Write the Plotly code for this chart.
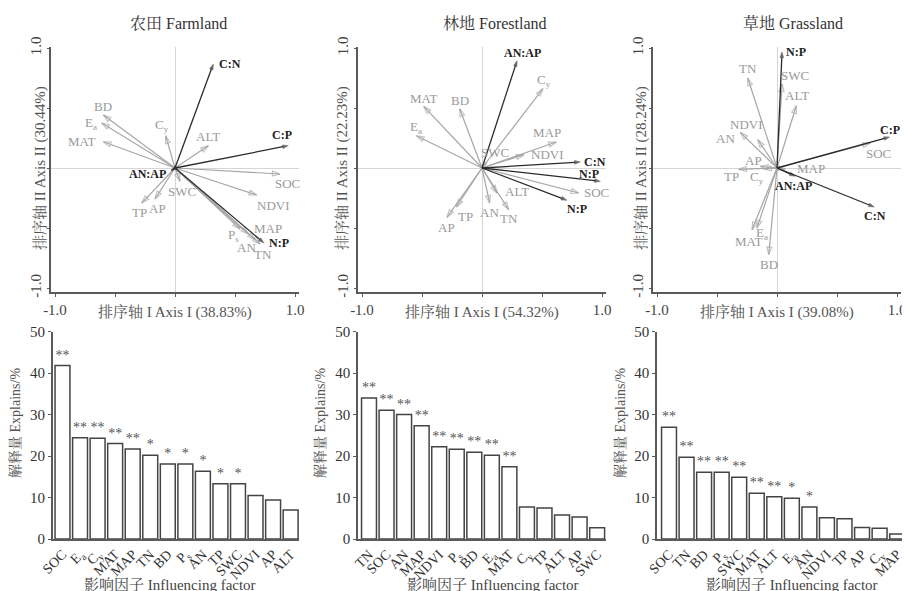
import plotly.graph_objects as go

# page body has an 8px default margin: the figure is sized so it fits the 910x591 window
PAGE_W, PAGE_H, OFF = 910, 591, 8
W, H = PAGE_W - OFF, PAGE_H - OFF
SERIF = "Liberation Serif, Times New Roman, Noto Serif CJK SC, Noto Sans CJK SC, serif"

# ---------------- RDA biplot data (arrow tips, axis units) ----------------
farm_env_names = ["BD", "E<sub>a</sub>", "MAT", "C<sub>y</sub>", "ALT", "SOC", "NDVI",
                  "SWC", "TP", "AP", "MAP", "P<sub>s</sub>", "AN", "TN"]
farm_env_x = [-0.597, -0.611, -0.597, -0.078, 0.278, 0.875, 0.681, 0.042, -0.278, -0.167, 0.611, 0.542, 0.667, 0.708]
farm_env_y = [0.442, 0.375, 0.219, 0.269, 0.186, -0.050, -0.225, -0.111, -0.292, -0.258, -0.550, -0.508, -0.597, -0.633]
farm_ratio_names = ["C:N", "C:P", "N:P", "AN:AP"]
farm_ratio_x = [0.319, 0.944, 0.742, -0.030]
farm_ratio_y = [0.867, 0.186, -0.625, -0.020]

forest_env_names = ["C<sub>y</sub>", "MAT", "BD", "E<sub>a</sub>", "MAP", "NDVI", "SWC",
                    "SOC", "ALT", "TN", "AN", "TP", "AP"]
forest_env_x = [0.508, -0.486, -0.186, -0.547, 0.619, 0.350, 0.040, 0.806, 0.125, 0.222, 0.064, -0.214, -0.292]
forest_env_y = [0.661, 0.514, 0.494, 0.269, 0.217, 0.111, 0.050, -0.208, -0.208, -0.347, -0.292, -0.325, -0.411]
forest_ratio_names = ["AN:AP", "C:N", "N:P", "N:P"]
forest_ratio_x = [0.292, 0.819, 0.986, 0.708]
forest_ratio_y = [0.894, 0.050, -0.111, -0.269]

grass_env_names = ["SWC", "ALT", "TN", "NDVI", "AN", "AP", "TP", "C<sub>y</sub>", "MAP",
                   "SOC", "MAT", "E<sub>a</sub>", "BD"]
grass_env_x = [0.042, 0.161, -0.244, -0.161, -0.306, -0.139, -0.319, -0.111, 0.070, 0.778, -0.208, -0.167, -0.069]
grass_env_y = [0.700, 0.519, 0.750, 0.236, 0.297, 0.014, -0.011, -0.008, -0.008, 0.208, -0.514, -0.500, -0.722]
grass_ratio_names = ["N:P", "AN:AP", "C:P", "C:N"]
grass_ratio_x = [0.042, 0.153, 0.939, 0.811]
grass_ratio_y = [0.967, -0.069, 0.258, -0.325]

rda_titles = ["农田 Farmland", "林地 Forestland", "草地 Grassland"]
axis1_titles = ["排序轴 I Axis I (38.83%)", "排序轴 I Axis I (54.32%)", "排序轴 I Axis I (39.08%)"]
axis2_titles = ["排序轴 II Axis II (30.44%)", "排序轴 II Axis II (22.23%)", "排序轴 II Axis II (28.24%)"]
rda_ticks = [-1.0, -0.5, 0.0, 0.5, 1.0]
rda_ticktext = ["-1.0", "", "", "", "1.0"]

# ---------------- Bar chart data ----------------
farm_factors = ["SOC", "E<sub>a</sub>", "C<sub>y</sub>", "MAT", "MAP", "TN", "BD",
                "P<sub>s</sub>", "AN", "TP", "SWC", "NDVI", "AP", "ALT"]
farm_explain = [41.8, 24.4, 24.3, 23.0, 21.7, 20.2, 18.1, 18.1, 16.3, 13.3, 13.3, 10.5, 9.4, 7.0]
farm_sig = ["**", "**", "**", "**", "**", "*", "*", "*", "*", "*", "*", "", "", ""]

forest_factors = ["TN", "SOC", "AN", "MAP", "NDVI", "P<sub>s</sub>", "BD", "E<sub>a</sub>",
                  "MAT", "C<sub>y</sub>", "TP", "ALT", "AP", "SWC"]
forest_explain = [34.0, 31.0, 30.0, 27.3, 22.2, 21.6, 20.9, 20.2, 17.4, 7.7, 7.5, 5.8, 5.3, 2.7]
forest_sig = ["**", "**", "**", "**", "**", "**", "**", "**", "**", "", "", "", "", ""]

grass_factors = ["SOC", "TN", "BD", "P<sub>s</sub>", "SWC", "MAT", "ALT", "E<sub>a</sub>",
                 "AN", "NDVI", "TP", "AP", "C<sub>y</sub>", "MAP"]
grass_explain = [26.9, 19.7, 16.1, 16.1, 14.9, 11.0, 10.2, 9.8, 7.7, 5.1, 4.9, 2.8, 2.6, 1.2]
grass_sig = ["**", "**", "**", "**", "**", "**", "**", "*", "*", "", "", "", "", ""]

bar_ticks = [0, 10, 20, 30, 40, 50]
bar_ytitle = "解释量 Explains/%"
bar_xtitle = "影响因子 Influencing factor"

# ---------------- label placement (pixel offsets: xshift, yshift, xanchor) ----------------
farm_env_lab = [(0, 8, "center"), (-3, 0, "right"), (-5, 0, "right"), (-4, 10, "center"), (0, 9, "center"),
                (7, -9, "center"), (17, -10, "center"), (2, -10, "center"), (-2, -9, "center"), (3, -10, "center"),
                (4, 6, "left"), (-7, -7, "center"), (-9, -8, "center"), (3, -11, "center")]
farm_ratio_lab = [(4, 0, "left"), (-6, 11, "center"), (3, 0, "left"), (-3, -4, "right")]
forest_env_lab = [(1, 8, "center"), (0, 8, "center"), (0, 8, "center"), (0, 8, "center"), (-9, 9, "center"),
                  (5, 0, "left"), (8, 10, "center"), (3, 0, "left"), (6, 1, "left"), (0, -9, "center"),
                  (0, -9, "center"), (9, -9, "center"), (0, -10, "center")]
forest_ratio_lab = [(5, 8, "center"), (2, 0, "left"), (-11, 7, "center"), (10, -9, "center")]
grass_env_lab = [(13, 9, "center"), (1, 10, "center"), (0, 10, "center"), (-11, 15, "center"), (-3, -6, "right"),
                 (-7, 6, "center"), (-7, -7, "center"), (-7, -9, "center"), (10, 0, "left"), (8, -10, "center"),
                 (-3, -12, "center"), (5, -5, "center"), (0, -10, "center")]
grass_ratio_lab = [(2, 0, "left"), (-2, -10, "center"), (0, 7, "center"), (1, -9, "center")]

ENV_COLOR = "#a6a6a6"
RATIO_COLOR = "#2b2b2b"
AXIS_COLOR = "#5a5a5a"


def fx(px):
    return (px - OFF) / W


def fy(py):
    return 1 - (py - OFF) / H


fig = go.Figure()
annotations = []
layout = dict(template="none", width=W, height=H, margin=dict(l=0, r=0, t=0, b=0, pad=0, autoexpand=False),
              paper_bgcolor="white", plot_bgcolor="white", showlegend=False,
              font=dict(family=SERIF, color="#333"))

# ---------------- top row: RDA biplots ----------------
rda_sets = [
    (farm_env_names, farm_env_x, farm_env_y, farm_env_lab, farm_ratio_names, farm_ratio_x, farm_ratio_y, farm_ratio_lab),
    (forest_env_names, forest_env_x, forest_env_y, forest_env_lab, forest_ratio_names, forest_ratio_x, forest_ratio_y, forest_ratio_lab),
    (grass_env_names, grass_env_x, grass_env_y, grass_env_lab, grass_ratio_names, grass_ratio_x, grass_ratio_y, grass_ratio_lab),
]
top_left_tick = [55, 362, 657]
top_title_x = [178, 495, 793]
ytitle_x = [40, 342, 641]
xrng = [-1.03, 1.03]
yrng = [-1.035, 1.01]
y_top_px, y_bot_px = 48 - 0.01 * 120, 288 + 0.035 * 120

for i, (en, ex, ey, el, rn, rx, ry, rl) in enumerate(rda_sets):
    n = i + 1
    xa, ya = f"x{n}", f"y{n}"
    left = top_left_tick[i] - 0.03 * 120
    right = top_left_tick[i] + 240 + 0.03 * 120
    layout[f"xaxis{n}"] = dict(domain=[fx(left), fx(right)], range=xrng, anchor=ya, automargin=False,
                               showgrid=False, zeroline=True, zerolinecolor="#d6d6d6", zerolinewidth=1,
                               showline=True, linecolor=AXIS_COLOR, linewidth=1.5,
                               ticks="outside", ticklen=3, tickcolor=AXIS_COLOR,
                               tickvals=rda_ticks, ticktext=rda_ticktext,
                               tickfont=dict(size=15, color="#444"))
    layout[f"yaxis{n}"] = dict(domain=[fy(y_bot_px), fy(y_top_px)], range=yrng, anchor=xa, automargin=False,
                               showgrid=False, zeroline=True, zerolinecolor="#d6d6d6", zerolinewidth=1,
                               showline=True, linecolor=AXIS_COLOR, linewidth=1.5,
                               ticks="outside", ticklen=3, tickcolor=AXIS_COLOR,
                               tickvals=rda_ticks, ticktext=rda_ticktext, tickangle=-90,
                               tickfont=dict(size=15, color="#444"))
    # environmental factor arrows
    for name, tx, ty, (dx, dy, anc) in zip(en, ex, ey, el):
        fig.add_trace(go.Scatter(x=[0, tx], y=[0, ty], xaxis=xa, yaxis=ya, mode="lines+markers",
                                 line=dict(color=ENV_COLOR, width=1.2),
                                 marker=dict(symbol=["circle", "arrow-open"], size=[0, 8], angleref="previous",
                                             color=ENV_COLOR, line=dict(color=ENV_COLOR, width=1.1)),
                                 hoverinfo="skip", cliponaxis=False))
        annotations.append(dict(x=tx, y=ty, xref=xa, yref=ya, text=name, showarrow=False,
                                xanchor=anc, yanchor="middle", xshift=dx, yshift=dy,
                                font=dict(size=13, color="#9a9a9a", family=SERIF)))
    # stoichiometric ratio arrows
    for name, tx, ty, (dx, dy, anc) in zip(rn, rx, ry, rl):
        fig.add_trace(go.Scatter(x=[0, tx], y=[0, ty], xaxis=xa, yaxis=ya, mode="lines+markers",
                                 line=dict(color=RATIO_COLOR, width=1.3),
                                 marker=dict(symbol=["circle", "arrow"], size=[0, 6], angleref="previous",
                                             color=RATIO_COLOR, line=dict(color=RATIO_COLOR, width=0.5)),
                                 hoverinfo="skip", cliponaxis=False))
        annotations.append(dict(x=tx, y=ty, xref=xa, yref=ya, text=f"<b>{name}</b>", showarrow=False,
                                xanchor=anc, yanchor="middle", xshift=dx, yshift=dy,
                                font=dict(size=12, color="#222", family=SERIF)))
    # titles
    annotations.append(dict(x=fx(top_title_x[i]), y=fy(23), xref="paper", yref="paper", text=rda_titles[i],
                            xanchor="center", yanchor="middle", showarrow=False,
                            font=dict(size=16, color="#333", family=SERIF)))
    annotations.append(dict(x=0, y=fy(312), xref=xa, yref="paper", text=axis1_titles[i], showarrow=False,
                            xanchor="center", yanchor="middle", font=dict(size=15, color="#555", family=SERIF)))
    annotations.append(dict(x=fx(ytitle_x[i]), y=0, xref="paper", yref=ya, text=axis2_titles[i], showarrow=False,
                            textangle=-90, xanchor="center", yanchor="middle",
                            font=dict(size=15, color="#555", family=SERIF)))

# ---------------- bottom row: explained variance bars ----------------
bar_sets = [(farm_factors, farm_explain, farm_sig),
            (forest_factors, forest_explain, forest_sig),
            (grass_factors, grass_explain, grass_sig)]
c0 = [62.5, 369, 669]
xr0 = [-0.55, -0.62, -0.68]
sp = 17.55
bar_title_x = [170, 493, 792]
bar_ytitle_x = [15, 320, 620]

for i, (fac, val, sig) in enumerate(bar_sets):
    n = i + 4
    xa, ya = f"x{n}", f"y{n}"
    left = c0[i] + xr0[i] * sp
    right = c0[i] + 13.5 * sp
    fig.add_trace(go.Bar(x=list(range(len(fac))), y=val, xaxis=xa, yaxis=ya, text=sig, textposition="outside",
                         textfont=dict(size=14, color="#555", family=SERIF), constraintext="none",
                         cliponaxis=False, marker=dict(color="white", line=dict(color="#444", width=1.5)),
                         hoverinfo="skip"))
    layout[f"xaxis{n}"] = dict(domain=[fx(left), fx(right)], range=[xr0[i], 13.5], anchor=ya, automargin=False,
                               showgrid=False, zeroline=False, showline=True, linecolor=AXIS_COLOR, linewidth=1.5,
                               ticks="", tickvals=list(range(len(fac))), ticktext=fac, tickangle=-45,
                               tickfont=dict(size=14, color="#333"))
    layout[f"yaxis{n}"] = dict(domain=[fy(539), fy(331.5)], range=[0, 50], anchor=xa, automargin=False,
                               showgrid=False, zeroline=False, showline=True, linecolor=AXIS_COLOR, linewidth=1.5,
                               ticks="outside", ticklen=3, tickcolor=AXIS_COLOR, tickvals=bar_ticks,
                               tickfont=dict(size=15, color="#333"))
    annotations.append(dict(x=fx(bar_title_x[i]), y=fy(585), xref="paper", yref="paper", text=bar_xtitle,
                            xanchor="center", yanchor="middle", showarrow=False,
                            font=dict(size=15, color="#444", family=SERIF)))
    annotations.append(dict(x=fx(bar_ytitle_x[i]), y=fy(423), xref="paper", yref="paper", text=bar_ytitle,
                            xanchor="center", yanchor="middle", showarrow=False, textangle=-90,
                            font=dict(size=14, color="#555", family=SERIF)))

layout["annotations"] = annotations
layout["bargap"] = 0.15
fig.update_layout(**layout)
fig.write_html("out.html")
